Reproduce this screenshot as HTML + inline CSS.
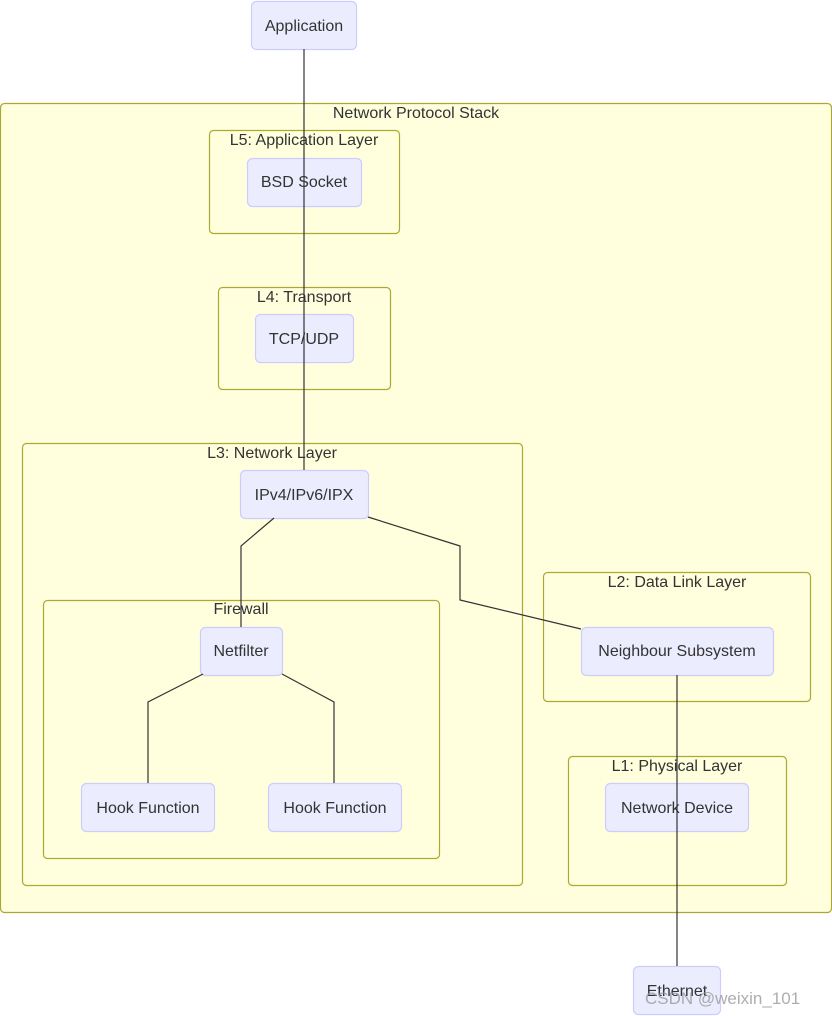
<!DOCTYPE html>
<html><head><meta charset="utf-8"><style>body{margin:0;background:#fff}svg{display:block}text{font-family:"Liberation Sans",Arial,sans-serif;font-size:16px;fill:#333}</style></head><body>
<svg width="832" height="1016" viewBox="0 0 832 1016" xmlns="http://www.w3.org/2000/svg">
<g fill="#ffffde" stroke="#aaaa33" stroke-width="1.2">
<rect x="0.5" y="103.5" width="831" height="809" rx="4"/>
<rect x="209.5" y="130.5" width="190" height="103" rx="4"/>
<rect x="218.5" y="287.5" width="172" height="102" rx="4"/>
<rect x="22.5" y="443.5" width="500" height="442" rx="4"/>
<rect x="43.5" y="600.5" width="396" height="258" rx="4"/>
<rect x="543.5" y="572.5" width="267" height="129" rx="4"/>
<rect x="568.5" y="756.5" width="218" height="129" rx="4"/>
</g>
<g text-anchor="middle">
<text x="416" y="118">Network Protocol Stack</text>
<text x="304" y="145">L5: Application Layer</text>
<text x="304" y="302">L4: Transport</text>
<text x="272" y="458">L3: Network Layer</text>
<text x="241" y="614">Firewall</text>
<text x="677" y="587">L2: Data Link Layer</text>
<text x="677" y="771">L1: Physical Layer</text>
</g>
<g fill="#ececff" stroke="#ccccff" stroke-width="1.2">
<rect x="251.5" y="1.5" width="105" height="48" rx="5"/>
<rect x="247.5" y="158.5" width="114" height="48" rx="5"/>
<rect x="255.5" y="314.5" width="98" height="48" rx="5"/>
<rect x="240.5" y="470.5" width="128" height="48" rx="5"/>
<rect x="200.5" y="627.5" width="82" height="48" rx="5"/>
<rect x="81.5" y="783.5" width="133" height="48" rx="5"/>
<rect x="268.5" y="783.5" width="133" height="48" rx="5"/>
<rect x="581.5" y="627.5" width="192" height="48" rx="5"/>
<rect x="605.5" y="783.5" width="143" height="48" rx="5"/>
<rect x="633.5" y="966.5" width="87" height="48" rx="5"/>
</g>
<g fill="none" stroke="#333" stroke-width="1.2">
<path d="M304 49V470"/>
<path d="M274 518L241 546V627"/>
<path d="M368 517L460 546V600L581 629"/>
<path d="M203 674L148 702V783"/>
<path d="M282 674L334 702V783"/>
<path d="M677 675V966"/>
</g>
<g text-anchor="middle">
<text x="304" y="31">Application</text>
<text x="304" y="187">BSD Socket</text>
<text x="304" y="344">TCP/UDP</text>
<text x="304" y="500">IPv4/IPv6/IPX</text>
<text x="241" y="656">Netfilter</text>
<text x="148" y="813">Hook Function</text>
<text x="335" y="813">Hook Function</text>
<text x="677" y="656">Neighbour Subsystem</text>
<text x="677" y="813">Network Device</text>
<text x="677" y="996">Ethernet</text>
</g>
<text x="645" y="1004" style="font-size:17px;fill:#999;opacity:0.8">CSDN @weixin_101</text>
</svg>
</body></html>
